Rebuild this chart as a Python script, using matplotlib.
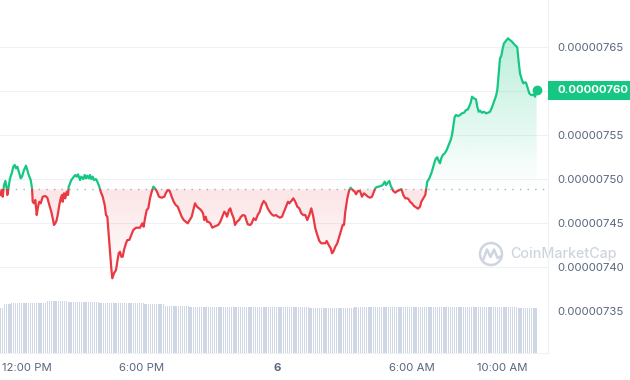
import numpy as np
import matplotlib
matplotlib.use("Agg")
import matplotlib.pyplot as plt
import matplotlib.dates as mdates
from matplotlib.path import Path
from matplotlib.patches import Rectangle, Arc
from matplotlib import transforms
from datetime import datetime, timedelta

plt.rcParams['font.family'] = ['Inter', 'DejaVu Sans']

GREEN = '#16c784'
RED = '#ea3943'
TEXT = '#58667e'
GRID = '#eff2f5'
BAR = '#cfd6e4'

# price samples: minutes from 12:00 PM (day 5) and price in units of 1e-8
minutes_from_noon = [
    -18.7, -14.1, -11.5, -8, -4.5, -0.8, 0.8, 4.5, 8, 12.5, 16.8, 20.5, 24, 27.5, 32.8, 36.5,
    40, 45.3, 50.7, 54.1, 57.9, 63.2, 66.7, 68.5, 72, 75.5, 79.2, 82.7, 86.1, 89.9, 95.2, 102.1,
    107.5, 112.8, 118.1, 121.9, 125.3, 128.8, 132.5, 136, 139.5, 143.2, 146.7, 148.5, 152, 155.5,
    159.2, 162.7, 164.5, 168, 171.5, 176, 182.1, 185.9, 189.3, 194.7, 198.1, 203.5, 207.2, 210.7,
    214.1, 217.9, 221.3, 224.8, 228.5, 232, 237.3, 240.8, 246.1, 249.9, 255.2, 260.5, 264, 267.5,
    271.2, 274.7, 278.1, 280.8, 285.3, 290.7, 294.1, 297.9, 301.3, 304.8, 308.5, 312, 317.3, 320.8,
    326.1, 331.5, 336.8, 344, 354.7, 360.8, 364.5, 368, 372.5, 376.8, 381.3, 385.9, 390.1, 394.7,
    400, 405.3, 412.5, 419.5, 423.2, 428.5, 433.9, 439.2, 444.5, 449.9, 455.2, 460.5, 465.9, 471.2,
    476.5, 481.9, 487.2, 492.5, 497.9, 501.3, 506.7, 512, 517.3, 522.7, 526.1, 529.9, 533.3, 536.8,
    542.1, 547.5, 552.8, 558.1, 563.5, 568.8, 574.1, 579.5, 583.2, 586.7, 592, 595.5, 599.2, 604.5,
    608, 613.3, 618.7, 624, 629.3, 634.7, 638.1, 641.9, 648.8, 652.5, 657.9, 663.2, 668.5, 673.9,
    679.2, 684.5, 689.9, 695.2, 700.5, 705.9, 711.2, 717.3, 722.7, 728, 733.3, 738.7, 744, 749.3,
    752.8, 758.1, 763.5, 768.8, 774.1, 779.5, 784.8, 790.1, 795.5, 800.8, 806.1, 811.5, 816.8,
    822.1, 827.5, 832.8, 838.1, 843.5, 848.8, 852.5, 857.9, 863.2, 866.7, 870.1, 875.5, 880.8,
    886.1, 891.5, 895.2, 898.7, 902.1, 907.5, 912.8, 916.5, 921.9, 927.2, 930.7, 936, 941.3, 946.7,
    952, 957.3, 962.7, 968, 973.3, 978.7, 982.1, 985.9, 991.2, 996.5, 1001.9, 1007.2, 1010.7,
    1014.1, 1019.5, 1023.2, 1026.7, 1030.1, 1035.5, 1040.8, 1046.1, 1051.5, 1056.8, 1062.1, 1067.5,
    1071.2, 1074.7, 1080, 1085.3, 1090.7, 1096, 1101.3, 1104.8, 1110.1, 1115.5, 1117.3, 1120.8,
    1126.1, 1131.5, 1136.8, 1140.5, 1144, 1147.5, 1151.2, 1154.7, 1158.1, 1161.9, 1167.2, 1172.5,
    1177.9, 1183.2, 1186.7, 1190.1, 1193.9, 1197.3, 1202.7, 1208, 1213.3, 1218.7, 1224, 1229.3,
    1232.8, 1236.5, 1240, 1245.3, 1250.7, 1254.1, 1257.9, 1261.3, 1266.7, 1272, 1277.3, 1282.7,
    1288, 1293.3, 1298.7, 1304, 1307.5, 1311.2, 1314.7, 1318.1, 1321.9, 1325.3, 1330.7, 1336,
    1341.3, 1346.7, 1352, 1357.3, 1360.8, 1364.5, 1368, 1373.3, 1376.8, 1380.5, 1384, 1387.5,
    1392.8, 1398.1, 1401.9, 1405.3, 1408, 1412.5,
]
price_e8 = [
    748.22, 748.78, 748.02, 749.35, 749.81, 748.98, 748.22, 749.16, 750.11, 750.68, 751.43, 751.63,
    751.25, 751.43, 750.68, 750.11, 750.30, 751.06, 751.55, 751.06, 750.49, 749.92, 748.98, 747.45,
    747.27, 747.65, 745.94, 746.89, 747.45, 747.27, 748.02, 748.10, 747.91, 747.08, 746.32, 745.57,
    744.81, 745.00, 745.37, 746.14, 747.08, 747.84, 748.22, 747.45, 748.41, 747.84, 748.59, 748.22,
    749.16, 749.55, 749.92, 750.18, 750.49, 750.30, 750.57, 749.92, 750.30, 750.03, 750.49, 750.11,
    750.41, 750.11, 750.49, 750.03, 750.30, 749.92, 750.03, 749.73, 749.16, 748.59, 748.02, 747.08,
    745.94, 745.75, 743.67, 741.77, 739.89, 738.75, 739.32, 739.69, 740.64, 741.59, 741.77, 741.20,
    741.20, 741.97, 742.73, 743.10, 743.10, 743.67, 744.24, 744.50, 744.50, 745.00, 744.61, 745.57,
    746.51, 746.70, 747.84, 748.59, 749.16, 748.98, 748.59, 748.02, 747.91, 748.02, 748.41, 748.78,
    748.67, 748.02, 747.45, 747.08, 746.89, 746.32, 745.75, 745.37, 745.18, 745.00, 745.37, 745.75,
    746.70, 747.27, 746.89, 746.70, 746.51, 746.14, 745.37, 745.75, 745.18, 745.18, 745.00, 744.50,
    744.61, 744.73, 744.81, 745.18, 745.75, 746.32, 746.14, 745.75, 746.51, 746.70, 746.14, 745.57,
    744.81, 745.18, 745.37, 745.75, 745.94, 745.86, 745.37, 744.89, 744.81, 745.00, 745.57, 745.37,
    745.94, 746.32, 747.08, 747.53, 747.27, 746.70, 746.32, 746.02, 745.86, 745.94, 745.75, 745.64,
    745.75, 746.32, 746.89, 747.45, 747.27, 747.53, 747.84, 747.45, 746.89, 746.70, 746.14, 745.94,
    745.94, 745.37, 745.94, 746.70, 745.75, 744.43, 743.67, 742.99, 742.73, 742.73, 742.73, 742.99,
    742.53, 742.16, 741.59, 741.77, 742.34, 742.73, 743.48, 744.24, 744.81, 744.81, 746.32, 747.84,
    748.78, 749.05, 748.78, 748.59, 748.30, 748.67, 748.67, 748.02, 748.41, 748.22, 748.02, 747.91,
    748.02, 748.59, 748.98, 749.13, 749.16, 749.24, 749.35, 749.73, 749.35, 749.55, 749.81, 749.27,
    748.98, 748.67, 748.48, 748.67, 748.75, 748.90, 748.22, 747.84, 747.84, 747.73, 747.45, 747.27,
    746.97, 746.82, 746.66, 746.89, 747.45, 747.84, 748.22, 748.78, 749.73, 750.11, 750.68, 751.43,
    752.00, 752.39, 752.50, 752.08, 751.82, 752.39, 752.76, 752.95, 753.33, 753.90, 754.47, 755.03,
    755.98, 757.11, 757.31, 757.19, 757.31, 757.50, 757.57, 757.87, 757.95, 758.33, 758.70, 759.39,
    759.20, 759.09, 758.25, 757.68, 757.80, 757.57, 757.68, 757.50, 757.57, 757.68, 758.18, 758.82,
    759.47, 760.15, 762.05, 763.75, 764.01, 764.89, 765.45, 765.75, 766.02, 765.83, 765.64, 765.38,
    765.15, 765.00, 763.36, 762.05, 761.28, 760.91, 761.02, 760.98, 760.52, 759.77, 759.58, 759.58,
    759.69, 759.39, 760.15,
]
open_price_e8 = 748.85

# volume: level (arbitrary units) held from each start minute onward
vol_start_minutes = [-19, -10, 11, 108, 160, 248, 365, 421, 488, 808, 928, 1240, 1360]
vol_level = [4.50, 4.90, 5.03, 5.20, 5.13, 5.03, 4.90, 4.73, 4.57, 4.47, 4.57, 4.63, 4.47]
vol_first, vol_last, vol_step = -17, 1416, 5

y_ticks_e8 = [735, 740, 745, 750, 755, 760, 765]

noon = datetime(2024, 3, 5, 12, 0)
t = mdates.date2num([noon + timedelta(minutes=m) for m in minutes_from_noon])
price = np.array(price_e8) * 1e-8
base = open_price_e8 * 1e-8

fig = plt.figure(figsize=(6.3, 3.8), dpi=100)
ax = fig.add_axes([0, 27 / 380, 548 / 630, 353 / 380])
axv = ax.twinx()
ax.set_zorder(2)
ax.patch.set_visible(False)
axv.set_zorder(1)

# volume bars
bar_min = np.arange(vol_first, vol_last + 1, vol_step)
idx = np.searchsorted(vol_start_minutes, bar_min, side='right') - 1
bar_t = mdates.date2num([noon + timedelta(minutes=int(m)) for m in bar_min])
axv.bar(bar_t, np.array(vol_level)[idx], width=2.9 / 1440, color=BAR, linewidth=0)
axv.set_ylim(0, 5.2 * 353 / 52)
axv.set_yticks([])
for s in axv.spines.values():
    s.set_visible(False)

xmin = mdates.date2num(noon + timedelta(minutes=-18.7))
xmax = mdates.date2num(noon + timedelta(minutes=1442.7))
ylo, yhi = 730.26e-8, 770.38e-8

for v in y_ticks_e8[1:]:
    ax.axhline(v * 1e-8, color=GRID, lw=0.8, zorder=0)
ax.axhline(base, color='#a6b0c3', lw=1, ls=(0, (1, 4.5)), zorder=1)


def gradient_area(color, above, a_far, far):
    coll = ax.fill_between(t, price, base, where=(price >= base) if above else (price <= base),
                           interpolate=True, facecolor='none', edgecolor='none')
    clip = Path.make_compound_path(*coll.get_paths())
    img = np.zeros((200, 1, 4))
    img[:, :, :3] = matplotlib.colors.to_rgb(color)
    if above:
        img[:, 0, 3] = np.linspace(a_far, 0, 200)
        ext = [t[0], t[-1], base, far]
    else:
        img[:, 0, 3] = np.linspace(a_far[0], a_far[1], 200)
        ext = [t[0], t[-1], far, base]
    im = ax.imshow(img, aspect='auto', extent=ext, origin='upper', zorder=1.5,
                   interpolation='bilinear')
    im.set_clip_path(clip, ax.transData)


gradient_area(GREEN, True, 0.30, 766.5e-8)
gradient_area(RED, False, (0.13, 0.0), 738.0e-8)

big = 1.0
up = Rectangle((xmin - 1, base), xmax - xmin + 2, big, transform=ax.transData)
dn = Rectangle((xmin - 1, base - big), xmax - xmin + 2, big, transform=ax.transData)
lg, = ax.plot(t, price, color=GREEN, lw=1.6, zorder=3, solid_joinstyle='round')
lr, = ax.plot(t, price, color=RED, lw=1.6, zorder=3, solid_joinstyle='round')
lg.set_clip_path(up)
lr.set_clip_path(dn)
ax.plot(t[-1], price[-1], 'o', color=GREEN, ms=6, zorder=4)

ax.set_xlim(xmin, xmax)
ax.set_ylim(ylo, yhi)

# axes styling
for k in ['top', 'left']:
    ax.spines[k].set_visible(False)
ax.spines['right'].set_color(GRID)
ax.spines['bottom'].set_color(GRID)

ax.yaxis.tick_right()
ax.set_yticks([v * 1e-8 for v in y_ticks_e8])
# the 760 level is covered by the current price tag
ax.set_yticklabels([f"{v * 1e-8:.8f}" if v != 760 else '' for v in y_ticks_e8])
ax.tick_params(axis='y', length=0, pad=6.5, labelsize=8.2, labelcolor=TEXT)

tick_dt = [noon, noon + timedelta(hours=6), noon + timedelta(hours=12),
           noon + timedelta(hours=18), noon + timedelta(hours=22)]
tick_lab = ['12:00 PM', '6:00 PM', '6', '6:00 AM', '10:00 AM']
ax.set_xticks(mdates.date2num(tick_dt))
ax.set_xticklabels(tick_lab)
ax.tick_params(axis='x', length=0, pad=7, labelsize=8.2, labelcolor=TEXT)
labs = ax.get_xticklabels()
labs[2].set_fontweight('bold')
labs[0].set_ha('left')
labs[0].set_transform(labs[0].get_transform() +
                      transforms.ScaledTranslation(-0.05, 0, fig.dpi_scale_trans))

# current price tag
tag_tr = transforms.blended_transform_factory(ax.transAxes, ax.transData)
tag_h = 2.16e-8
ax.add_patch(Rectangle((1.0, price[-1] - tag_h / 2), 82 / 548, tag_h, transform=tag_tr,
                       facecolor=GREEN, edgecolor='none', clip_on=False, zorder=5))
ax.text(1.0 + 9 / 548, price[-1], f"{price[-1]:.8f}", transform=tag_tr, ha='left',
        va='center', color='white', fontsize=8.2, fontweight='bold', zorder=6)

# watermark
wm = fig.add_axes([0, 0, 1, 1], zorder=0.5)
wm.set_xlim(0, 630)
wm.set_ylim(380, 0)
wm.axis('off')
wm.patch.set_visible(False)
wm_col = '#cfd5df'
wm.add_patch(Arc((491, 254), 22, 22, theta1=-20, theta2=340, color=wm_col, lw=1.8))
wm.plot([483.5, 487, 490.5, 494, 497.5, 501], [259, 249.5, 257, 249.5, 258, 256.5],
        color=wm_col, lw=1.8, solid_joinstyle='round', solid_capstyle='round')
wm.text(510, 254, 'CoinMarketCap', ha='left', va='center', color=wm_col, fontsize=10.3,
        fontweight='medium')

fig.savefig('out.png', dpi=100)
